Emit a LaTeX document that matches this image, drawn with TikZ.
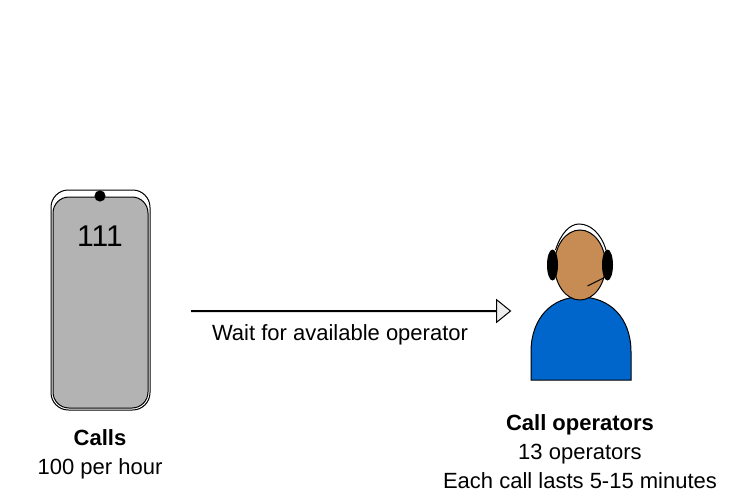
\documentclass[tikz,border=0pt]{standalone}
\usepackage{fontspec}
\setmainfont{Liberation Sans}
\usetikzlibrary{shapes.arrows}
\definecolor{screengray}{HTML}{B3B3B3}
\definecolor{arrowgray}{HTML}{EEEEEE}
\definecolor{shirtblue}{HTML}{0066CC}
\definecolor{skintone}{HTML}{C68C53}
\tikzset{
  outline/.style={draw=black, line width=0.75pt},
  caption/.style={align=center, inner sep=0pt, font=\fontsize{16.5}{21.75}\selectfont},
}

\begin{document}
\begin{tikzpicture}[x=0.75pt, y=-0.75pt]
  \useasboundingbox (0,0) rectangle (738,499);
  % phone
  \draw [outline, rounded corners=13pt, fill=white] (51,190) rectangle (150,410);
  \draw [outline, rounded corners=12pt, fill=screengray] (53,197) rectangle (148,408);
  \fill (100,196) circle [radius=4.2pt];
  \node (number) [inner sep=0pt, font=\fontsize{22.5}{27}\selectfont] at (100,236) {111};
  \node (calls) [caption, anchor=north] at (100,429) {\textbf{Calls}\\100 per hour};
  % block arrow
  \node (wait) [single arrow, outline, fill=arrowgray, inner sep=0pt, text width=0pt,
    minimum height=239.25pt, minimum width=7.5pt, single arrow head extend=8pt,
    single arrow tip angle=78, single arrow head indent=0pt, anchor=west] at (191,311) {};
  \node (waitlabel) [caption] at (340,335) {Wait for available operator};
  % operator
  \draw [outline, fill=shirtblue] (531,380) -- (531,352) .. controls (531,318) and (552,297) .. (580,297)
    .. controls (610,297) and (631,318) .. (631,352) -- (631,380) -- cycle;
  \draw [outline, fill=white] (555.5,250) .. controls (561,233) and (570,224) .. (579,224)
    .. controls (590,224) and (601,233) .. (606,250);
  \draw [outline, fill=skintone] (580,265) ellipse [x radius=25.5, y radius=35];
  \fill (552.5,265) ellipse [x radius=5.5, y radius=15.5];
  \fill (607.5,265) ellipse [x radius=5.5, y radius=15.5];
  \draw [outline] (587.5,286) -- (604.5,277.5);
  \node (operators) [caption, anchor=north] at (580,414) {\textbf{Call operators}\\13 operators\\Each call lasts 5-15 minutes};
\end{tikzpicture}
\end{document}
